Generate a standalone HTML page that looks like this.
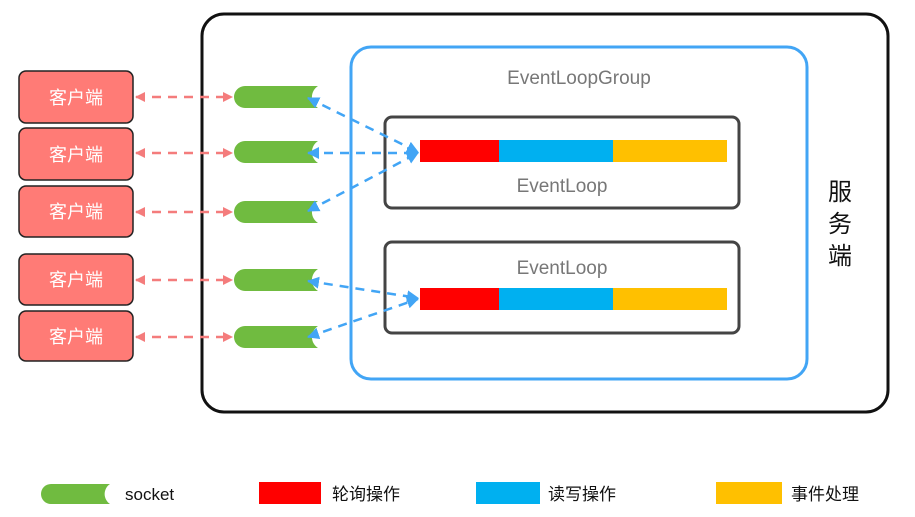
<!DOCTYPE html>
<html><head><meta charset="utf-8"><style>
html,body{margin:0;padding:0;background:#fff;}
svg{display:block;}
text{font-family:"Liberation Sans","Noto Sans CJK SC",sans-serif;}
</style></head><body>
<svg width="915" height="517" viewBox="0 0 915 517" xmlns="http://www.w3.org/2000/svg">
<defs>
<marker id="rh" markerWidth="10" markerHeight="10" refX="9" refY="5" orient="auto" markerUnits="userSpaceOnUse"><path d="M0,0 L10,5 L0,10 Z" fill="#f47c7c"/></marker>
<marker id="rt" markerWidth="10" markerHeight="10" refX="1" refY="5" orient="auto" markerUnits="userSpaceOnUse"><path d="M10,0 L0,5 L10,10 Z" fill="#f47c7c"/></marker>
<marker id="bh" markerWidth="12" markerHeight="12" refX="11" refY="6" orient="auto-start-reverse" markerUnits="userSpaceOnUse"><path d="M0,0 L12,6 L0,12 Z" fill="#42a5f5"/></marker>
</defs>
<rect x="202" y="14" width="686" height="398" rx="22" fill="none" stroke="#111" stroke-width="3"/>
<rect x="351" y="47" width="456" height="332" rx="20" fill="none" stroke="#42a5f5" stroke-width="3"/>
<text x="579" y="84" text-anchor="middle" font-size="19" fill="#777">EventLoopGroup</text>
<rect x="385" y="117" width="354" height="91" rx="7" fill="none" stroke="#444" stroke-width="3"/>
<rect x="385" y="242" width="354" height="91" rx="7" fill="none" stroke="#444" stroke-width="3"/>
<text x="562" y="192" text-anchor="middle" font-size="19" fill="#777">EventLoop</text>
<text x="562" y="274" text-anchor="middle" font-size="19" fill="#777">EventLoop</text>
<rect x="420" y="140" width="79" height="22" fill="#ff0000"/><rect x="499" y="140" width="114" height="22" fill="#00b0f0"/><rect x="613" y="140" width="114" height="22" fill="#ffc000"/>
<rect x="420" y="288" width="79" height="22" fill="#ff0000"/><rect x="499" y="288" width="114" height="22" fill="#00b0f0"/><rect x="613" y="288" width="114" height="22" fill="#ffc000"/>
<text font-size="24" fill="#111" text-anchor="middle"><tspan x="840" y="200">服</tspan><tspan x="840" y="232">务</tspan><tspan x="840" y="264">端</tspan></text>
<g fill="#ff7b76" stroke="#222" stroke-width="1.5">
<rect x="19" y="71" width="114" height="52" rx="7"/><rect x="19" y="128" width="114" height="52" rx="7"/><rect x="19" y="186" width="114" height="51" rx="7"/><rect x="19" y="254" width="114" height="51" rx="7"/><rect x="19" y="311" width="114" height="50" rx="7"/>
</g>
<g fill="#fff" font-size="18" text-anchor="middle">
<text x="76" y="104">客户端</text><text x="76" y="161">客户端</text><text x="76" y="218">客户端</text><text x="76" y="286">客户端</text><text x="76" y="343">客户端</text>
</g>
<g fill="#70bb40">
<path d="M245,86 H318 A13,13 0 0 0 318,108 H245 A11,11 0 0 1 245,86Z"/>
<path d="M245,141 H318 A13,13 0 0 0 318,163 H245 A11,11 0 0 1 245,141Z"/>
<path d="M245,201 H318 A13,13 0 0 0 318,223 H245 A11,11 0 0 1 245,201Z"/>
<path d="M245,269 H318 A13,13 0 0 0 318,291 H245 A11,11 0 0 1 245,269Z"/>
<path d="M245,326 H318 A13,13 0 0 0 318,348 H245 A11,11 0 0 1 245,326Z"/>
<path d="M51,484 H110 A12,12 0 0 0 110,504 H51 A10,10 0 0 1 51,484Z"/>
</g>
<g stroke="#f47c7c" stroke-width="2.5" stroke-dasharray="9,7" marker-start="url(#rt)" marker-end="url(#rh)">
<line x1="136" y1="97" x2="232" y2="97"/><line x1="136" y1="153" x2="232" y2="153"/><line x1="136" y1="212" x2="232" y2="212"/><line x1="136" y1="280" x2="232" y2="280"/><line x1="136" y1="337" x2="232" y2="337"/>
</g>
<g stroke="#42a5f5" stroke-width="2.5" stroke-dasharray="9,7" marker-start="url(#bh)" marker-end="url(#bh)">
<line x1="308" y1="98" x2="418" y2="152"/><line x1="308" y1="153" x2="418" y2="153"/><line x1="308" y1="211" x2="418" y2="153"/>
<line x1="308" y1="281" x2="418" y2="298"/><line x1="308" y1="337" x2="418" y2="299"/>
</g>
<text x="125" y="500" font-size="17" fill="#111">socket</text>
<rect x="259" y="482" width="62" height="22" fill="#ff0000"/><text x="332" y="500" font-size="17" fill="#111">轮询操作</text>
<rect x="476" y="482" width="64" height="22" fill="#00b0f0"/><text x="548" y="500" font-size="17" fill="#111">读写操作</text>
<rect x="716" y="482" width="66" height="22" fill="#ffc000"/><text x="791" y="500" font-size="17" fill="#111">事件处理</text>
</svg>
</body></html>
